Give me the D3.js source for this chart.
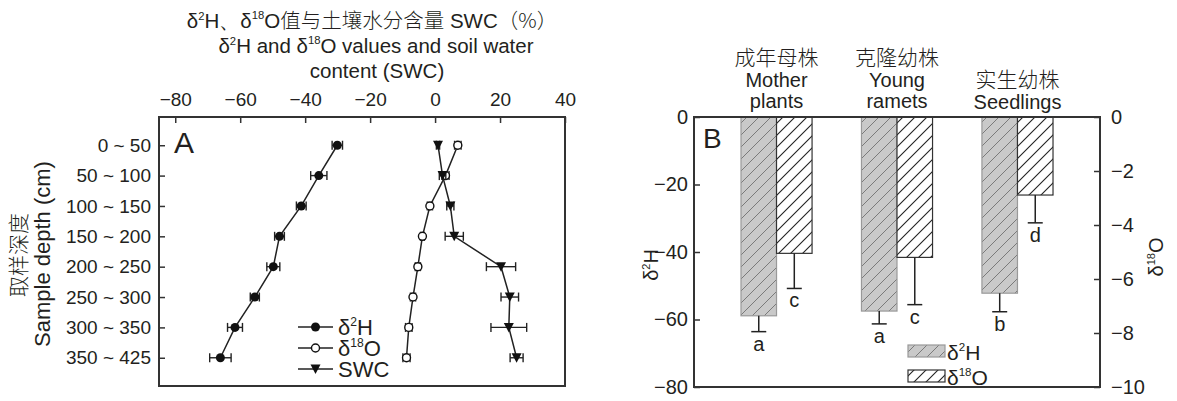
<!DOCTYPE html>
<html>
<head>
<meta charset="utf-8">
<script src="https://cdn.jsdelivr.net/npm/d3@7"></script>
<style>
  body { margin: 0; background: #fff; }
  text { font-family: "Liberation Sans", Arial, sans-serif; fill: #231f20; }
  .cjk { font-family: "Noto Sans CJK SC", sans-serif; font-weight: 300; }
</style>
</head>
<body>
<div id="chart"></div>
<script>
// Panel A data: depth profile
const depths = ["0 ~ 50", "50 ~ 100", "100 ~ 150", "150 ~ 200", "200 ~ 250", "250 ~ 300", "300 ~ 350", "350 ~ 425"];
const d2H = [-30.1, -35.8, -41.2, -47.9, -49.8, -55.5, -61.6, -66.1];
const d2HErr = [1.6, 2.5, 1.5, 1.5, 2.0, 1.4, 2.3, 3.3];
const d18O = [7.0, 3.2, -1.6, -3.9, -5.3, -6.8, -8.1, -8.8];
const d18OErr = [1.0, 1.1, 0.8, 0.6, 0.8, 0.8, 1.0, 1.1];
const swc = [0.9, 2.3, 4.7, 5.9, 20.3, 23.0, 22.7, 25.1];
const swcErr = [0.5, 1.0, 1.1, 2.8, 4.5, 2.7, 5.5, 2.0];
const xTicksA = [-80, -60, -40, -20, 0, 20, 40];

// Panel B data: plant groups
const groupsCn = ["成年母株", "克隆幼株", "实生幼株"];
const groupsEn = [["Mother", "plants"], ["Young", "ramets"], ["Seedlings"]];
const barH = [-58.9, -57.5, -52.2];
const barHErr = [4.7, 3.8, 5.5];
const barO = [-5.05, -5.2, -2.89];
const barOErr = [1.3, 1.75, 1.03];
const lettersH = ["a", "a", "b"];
const lettersO = ["c", "c", "d"];
const yTicksH = [0, -20, -40, -60, -80];
const yTicksO = [0, -2, -4, -6, -8, -10];

const svg = d3.select("#chart").append("svg")
    .attr("width", 1177)
    .attr("height", 401);

// write text with superscript parts: ["δ", ["2"], "H"]
function rich(sel, parts) {
  let up = false;
  parts.forEach(p => {
    if (Array.isArray(p)) {
      sel.append("tspan").attr("font-size", "0.55em").attr("dy", "-0.75em").text(p[0]);
      up = true;
    } else {
      const t = sel.append("tspan").text(p);
      if (up) { t.attr("dy", "0.41em"); up = false; }
    }
  });
  return sel;
}

// hatch patterns
const defs = svg.append("defs");
const pH = defs.append("pattern").attr("id", "hatchH")
    .attr("patternUnits", "userSpaceOnUse").attr("width", 12).attr("height", 12);
pH.append("rect").attr("width", 12).attr("height", 12).attr("fill", "#c9c9c9");
pH.append("path").attr("d", "M-1,13 L13,-1 M-3,3 L3,-3 M9,15 L15,9")
    .attr("stroke", "#666").attr("stroke-width", 0.8);
const pO = defs.append("pattern").attr("id", "hatchO")
    .attr("patternUnits", "userSpaceOnUse").attr("width", 12).attr("height", 12);
pO.append("rect").attr("width", 12).attr("height", 12).attr("fill", "#fff");
pO.append("path").attr("d", "M-1,13 L13,-1 M-3,3 L3,-3 M9,15 L15,9")
    .attr("stroke", "#222").attr("stroke-width", 1.1);

// ---------------- Panel A ----------------
const A = {left: 159, right: 565, top: 117, bottom: 386};
const xA = d3.scaleLinear().domain([-85, 40]).range([A.left, A.right]);
const yA = d3.scalePoint().domain(depths).range([A.top, A.bottom]).padding(0.93);

// title
const title = svg.append("g").attr("font-size", 20.5).attr("text-anchor", "middle");
const t1 = title.append("text").attr("x", 372).attr("y", 28);
rich(t1, ["δ", ["2"], "H、δ", ["18"], "O"]);
t1.append("tspan").attr("class", "cjk").text("值与土壤水分含量");
t1.append("tspan").text(" SWC");
t1.append("tspan").attr("class", "cjk").text("（%）");
rich(title.append("text").attr("x", 376).attr("y", 53), ["δ", ["2"], "H and δ", ["18"], "O values and soil water"]);
title.append("text").attr("x", 377).attr("y", 78).text("content (SWC)");

const gA = svg.append("g");
gA.append("g")
    .attr("transform", `translate(0,${A.top})`)
    .call(d3.axisTop(xA).tickValues(xTicksA).tickSizeInner(-6).tickSizeOuter(0).tickPadding(11))
    .call(g => g.select(".domain").remove())
    .call(g => g.selectAll("text").attr("font-size", 19).attr("fill", "#231f20").attr("font-family", null))
    .call(g => g.selectAll("line").attr("stroke", "#333").attr("stroke-width", 1.5));
gA.append("g")
    .attr("transform", `translate(${A.left},0)`)
    .call(d3.axisLeft(yA).tickSizeInner(-6).tickSizeOuter(0).tickPadding(8))
    .call(g => g.select(".domain").remove())
    .call(g => g.selectAll("text").attr("font-size", 19).attr("fill", "#231f20").attr("font-family", null))
    .call(g => g.selectAll("line").attr("stroke", "#333").attr("stroke-width", 1.5));

gA.append("rect")
    .attr("x", A.left).attr("y", A.top)
    .attr("width", A.right - A.left).attr("height", A.bottom - A.top)
    .attr("fill", "none").attr("stroke", "#333").attr("stroke-width", 2);

gA.append("text").attr("x", 174).attr("y", 153).attr("font-size", 30).text("A");

// y title
svg.append("text").attr("class", "cjk")
    .attr("transform", "translate(26,255) rotate(-90)")
    .attr("text-anchor", "middle").attr("font-size", 21).text("取样深度");
svg.append("text")
    .attr("transform", "translate(50,254) rotate(-90)")
    .attr("text-anchor", "middle").attr("font-size", 22).text("Sample depth (cm)");

const seriesA = [
  {vals: d2H, err: d2HErr, marker: "dot"},
  {vals: d18O, err: d18OErr, marker: "open"},
  {vals: swc, err: swcErr, marker: "tri"}
];
const lineA = d3.line().x(d => xA(d[0])).y(d => yA(d[1]));

seriesA.forEach(s => {
  const pts = s.vals.map((v, i) => [v, depths[i], s.err[i]]);
  gA.append("path").datum(pts).attr("d", lineA)
      .attr("fill", "none").attr("stroke", "#222").attr("stroke-width", 1.5);
  const eb = gA.append("g").attr("stroke", "#222").attr("stroke-width", 1.4);
  pts.forEach(p => {
    const y = yA(p[1]), x0 = xA(p[0] - p[2]), x1 = xA(p[0] + p[2]);
    eb.append("line").attr("x1", x0).attr("x2", x1).attr("y1", y).attr("y2", y);
    eb.append("line").attr("x1", x0).attr("x2", x0).attr("y1", y - 4.5).attr("y2", y + 4.5);
    eb.append("line").attr("x1", x1).attr("x2", x1).attr("y1", y - 4.5).attr("y2", y + 4.5);
  });
  pts.forEach(p => drawMarker(gA, s.marker, xA(p[0]), yA(p[1])));
});

function drawMarker(g, type, x, y) {
  if (type === "dot") {
    g.append("circle").attr("cx", x).attr("cy", y).attr("r", 4.5).attr("fill", "#111");
  } else if (type === "open") {
    g.append("circle").attr("cx", x).attr("cy", y).attr("r", 4).attr("fill", "#fff")
        .attr("stroke", "#111").attr("stroke-width", 1.4);
  } else {
    g.append("path").attr("transform", `translate(${x},${y})`)
        .attr("d", "M-5,-4.5 L5,-4.5 L0,5 Z").attr("fill", "#111");
  }
}

// legend A
const legA = gA.append("g");
legA.append("rect").attr("x", 278).attr("y", 297).attr("width", 114).attr("height", 88).attr("fill", "#fff");
const legItems = [
  {marker: "dot", parts: ["δ", ["2"], "H"], y: 327},
  {marker: "open", parts: ["δ", ["18"], "O"], y: 348},
  {marker: "tri", parts: ["SWC"], y: 369}
];
legItems.forEach(it => {
  legA.append("line").attr("x1", 298).attr("x2", 333).attr("y1", it.y).attr("y2", it.y)
      .attr("stroke", "#222").attr("stroke-width", 1.5);
  drawMarker(legA, it.marker, 315.5, it.y);
  rich(legA.append("text").attr("x", 338).attr("y", it.y + 8).attr("font-size", 22), it.parts);
});

// ---------------- Panel B ----------------
const B = {left: 694, right: 1100, top: 117, bottom: 387};
const xB = d3.scaleBand().domain(groupsCn).range([B.left, B.right])
    .paddingInner(0.41).paddingOuter(0.39);
const yH = d3.scaleLinear().domain([-80, 0]).range([B.bottom, B.top]);
const yO = d3.scaleLinear().domain([-10, 0]).range([B.bottom, B.top]);
const gB = svg.append("g");

gB.append("g")
    .attr("transform", `translate(${B.left},0)`)
    .call(d3.axisLeft(yH).tickValues(yTicksH).tickSizeInner(-6).tickSizeOuter(0).tickPadding(6))
    .call(g => g.select(".domain").remove())
    .call(g => g.selectAll("text").attr("font-size", 20).attr("fill", "#231f20").attr("font-family", null))
    .call(g => g.selectAll("line").attr("stroke", "#333").attr("stroke-width", 1.5));
gB.append("g")
    .attr("transform", `translate(${B.right},0)`)
    .call(d3.axisRight(yO).tickValues(yTicksO).tickSizeInner(-6).tickSizeOuter(0).tickPadding(11))
    .call(g => g.select(".domain").remove())
    .call(g => g.selectAll("text").attr("font-size", 20).attr("fill", "#231f20").attr("font-family", null))
    .call(g => g.selectAll("line").attr("stroke", "#333").attr("stroke-width", 1.5));

const bw = xB.bandwidth() / 2;
groupsCn.forEach((grp, i) => {
  const x0 = xB(grp);
  // δ2H bar
  gB.append("rect").attr("x", x0).attr("y", yH(0))
      .attr("width", bw).attr("height", yH(barH[i]) - yH(0))
      .attr("fill", "url(#hatchH)").attr("stroke", "#999").attr("stroke-width", 1.2);
  // δ18O bar
  gB.append("rect").attr("x", x0 + bw).attr("y", yO(0))
      .attr("width", bw).attr("height", yO(barO[i]) - yO(0))
      .attr("fill", "url(#hatchO)").attr("stroke", "#333").attr("stroke-width", 1.2);

  const errs = [
    {cx: x0 + bw / 2, y0: yH(barH[i]), y1: yH(barH[i] - barHErr[i]), lab: lettersH[i]},
    {cx: x0 + bw * 1.5, y0: yO(barO[i]), y1: yO(barO[i] - barOErr[i]), lab: lettersO[i]}
  ];
  errs.forEach(e => {
    gB.append("line").attr("x1", e.cx).attr("x2", e.cx).attr("y1", e.y0).attr("y2", e.y1)
        .attr("stroke", "#222").attr("stroke-width", 1.5);
    gB.append("line").attr("x1", e.cx - 7.5).attr("x2", e.cx + 7.5).attr("y1", e.y1).attr("y2", e.y1)
        .attr("stroke", "#222").attr("stroke-width", 1.5);
    gB.append("text").attr("x", e.cx).attr("y", e.y1 + 19).attr("text-anchor", "middle")
        .attr("font-size", 20).text(e.lab);
  });

  // group labels
  const cx = x0 + xB.bandwidth() / 2;
  const en = groupsEn[i];
  const baseCn = en.length === 2 ? 65 : 87;
  gB.append("text").attr("class", "cjk").attr("x", cx).attr("y", baseCn)
      .attr("text-anchor", "middle").attr("font-size", 21).text(grp);
  en.forEach((line, j) => {
    gB.append("text").attr("x", cx).attr("y", baseCn + 22 + j * 21)
        .attr("text-anchor", "middle").attr("font-size", 20).text(line);
  });
});

gB.append("rect")
    .attr("x", B.left).attr("y", B.top)
    .attr("width", B.right - B.left).attr("height", B.bottom - B.top)
    .attr("fill", "none").attr("stroke", "#333").attr("stroke-width", 2);

gB.append("text").attr("x", 703).attr("y", 148).attr("font-size", 28).text("B");

rich(svg.append("text").attr("transform", "translate(658,265) rotate(-90)")
    .attr("text-anchor", "middle").attr("font-size", 20), ["δ", ["2"], "H"]);
rich(svg.append("text").attr("transform", "translate(1163,257) rotate(-90)")
    .attr("text-anchor", "middle").attr("font-size", 20), ["δ", ["18"], "O"]);

// legend B
const legB = [
  {fill: "url(#hatchH)", stroke: "#999", parts: ["δ", ["2"], "H"], y: 345},
  {fill: "url(#hatchO)", stroke: "#333", parts: ["δ", ["18"], "O"], y: 370}
];
legB.forEach(it => {
  gB.append("rect").attr("x", 908).attr("y", it.y).attr("width", 37).attr("height", 12)
      .attr("fill", it.fill).attr("stroke", it.stroke).attr("stroke-width", 1.2);
  rich(gB.append("text").attr("x", 947).attr("y", it.y + 15).attr("font-size", 21), it.parts);
});
</script>
</body>
</html>
